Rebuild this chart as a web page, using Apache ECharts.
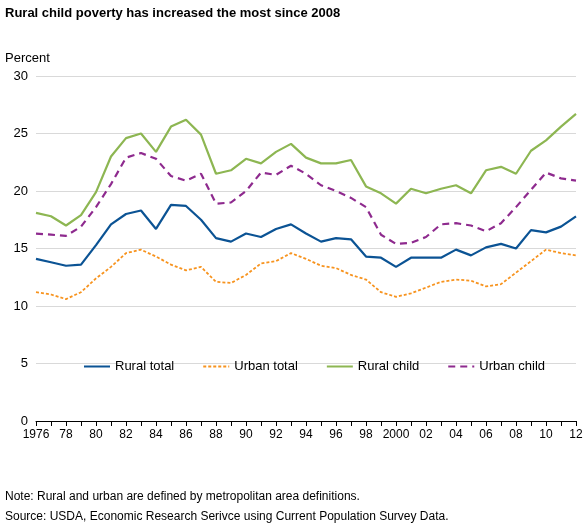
<!DOCTYPE html>
<html><head><meta charset="utf-8">
<script src="https://cdn.jsdelivr.net/npm/echarts@6/dist/echarts.min.js"></script>
<style>body{margin:0}#c{width:588px;height:526px}</style></head>
<body><div id="c"></div>
<script>
var years = [];
for (var y = 1976; y <= 2012; y++) years.push(String(y));
var ruralTotal = [14.1,13.8,13.5,13.6,15.3,17.1,18.0,18.3,16.7,18.8,18.7,17.5,15.9,15.6,16.3,16.0,16.7,17.1,16.3,15.6,15.9,15.8,14.3,14.2,13.4,14.2,14.2,14.2,14.9,14.4,15.1,15.4,15.0,16.6,16.4,16.9,17.8];
var urbanTotal = [11.2,11.0,10.6,11.2,12.4,13.4,14.6,14.9,14.3,13.6,13.1,13.4,12.1,12.0,12.7,13.7,13.9,14.6,14.1,13.5,13.3,12.7,12.3,11.2,10.8,11.1,11.6,12.1,12.3,12.2,11.7,11.9,12.9,13.9,14.9,14.6,14.4];
var ruralChild = [18.1,17.8,17.0,17.9,19.9,23.0,24.6,25.0,23.4,25.6,26.2,24.9,21.5,21.8,22.8,22.4,23.4,24.1,22.9,22.4,22.4,22.7,20.4,19.8,18.9,20.2,19.8,20.2,20.5,19.8,21.8,22.1,21.5,23.5,24.4,25.6,26.7];
var urbanChild = [16.3,16.2,16.1,16.9,18.6,20.6,22.9,23.3,22.8,21.3,20.9,21.5,18.9,19.0,20.0,21.6,21.4,22.2,21.5,20.5,20.0,19.4,18.6,16.2,15.4,15.5,16.0,17.1,17.2,17.0,16.5,17.2,18.6,20.1,21.6,21.1,20.9];

var font = "Liberation Sans";
var chart = echarts.init(document.getElementById("c"));
function line(name, data, color, type, w) {
  return { name: name, type: "line", data: data, symbol: "none",
    lineStyle: { color: color, width: w, type: type }, itemStyle: { color: color } };
}
chart.setOption({
  animation: false,
  textStyle: { fontFamily: font },
  title: [
    { text: "Rural child poverty has increased the most since 2008", left: 0, top: 2,
      textStyle: { fontSize: 13, fontWeight: "bold", color: "#000", fontFamily: font } },
    { text: "Percent", left: 0, top: 47, textStyle: { fontSize: 13, fontWeight: "normal", color: "#000", fontFamily: font } },
    { text: "Note: Rural and urban are defined by metropolitan area definitions.\nSource: USDA, Economic Research Serivce using Current Population Survey Data.",
      left: 0, top: 482, textStyle: { fontSize: 12, fontWeight: "normal", color: "#000", lineHeight: 20, fontFamily: font } }
  ],
  legend: {
    top: 355, left: 78, itemGap: 28, itemWidth: 26, itemHeight: 10,
    itemStyle: { opacity: 0 },
    textStyle: { fontSize: 13, color: "#000", fontFamily: font },
    data: ["Rural total", "Urban total", "Rural child", "Urban child"]
  },
  grid: { left: 36, right: 12, top: 76, bottom: 105 },
  xAxis: {
    type: "category", data: years, boundaryGap: false,
    axisLine: { lineStyle: { color: "#000" } },
    axisTick: { alignWithLabel: true, interval: 0, lineStyle: { color: "#000" } },
    axisLabel: { interval: 1, color: "#000", fontSize: 12,
      formatter: function (v) { return (v === "1976" || v === "2000") ? v : v.slice(2); } }
  },
  yAxis: {
    type: "value", min: 0, max: 30, interval: 5,
    axisLabel: { color: "#000", fontSize: 13 },
    splitLine: { lineStyle: { color: "#d9d9d9" } }
  },
  series: [
    line("Rural total", ruralTotal, "#0b5394", "solid", 2.2),
    line("Urban total", urbanTotal, "#f7931e", [3, 2], 1.8),
    line("Rural child", ruralChild, "#8db652", "solid", 2.2),
    line("Urban child", urbanChild, "#8e2a8e", [7, 5], 2.2)
  ]
});
</script></body></html>
